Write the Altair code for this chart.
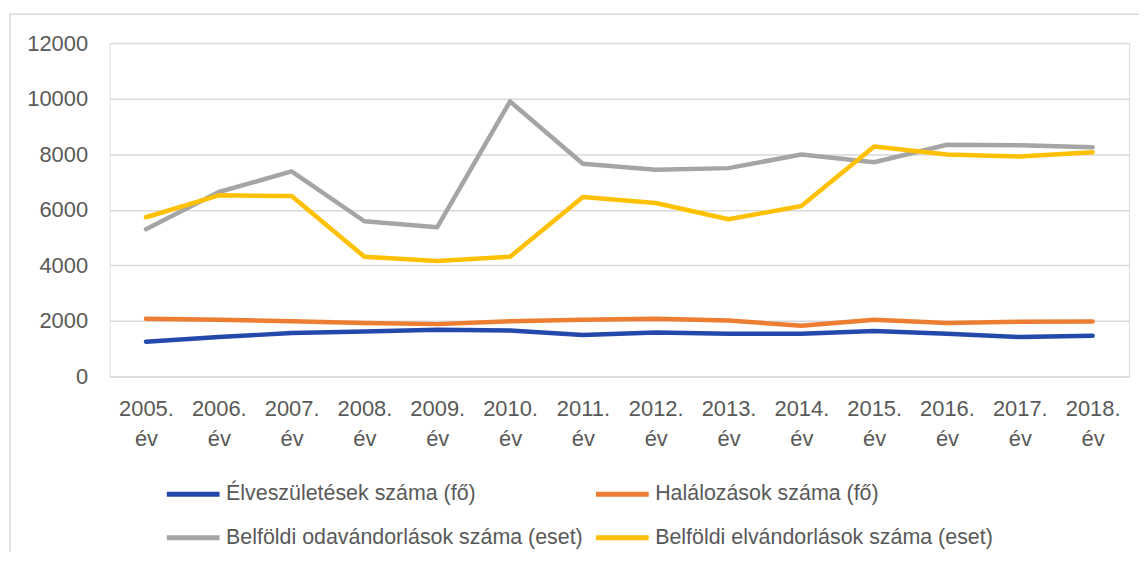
import altair as alt
import pandas as pd

years = ["2005. év", "2006. év", "2007. év", "2008. év", "2009. év", "2010. év", "2011. év",
         "2012. év", "2013. év", "2014. év", "2015. év", "2016. év", "2017. év", "2018. év"]

series_names = [
    "Élveszületések száma (fő)",
    "Halálozások száma (fő)",
    "Belföldi odavándorlások száma (eset)",
    "Belföldi elvándorlások száma (eset)",
]

births = [1254, 1422, 1565, 1623, 1684, 1660, 1493, 1588, 1540, 1540, 1637, 1540, 1422, 1469]
deaths = [2078, 2042, 1990, 1924, 1887, 1990, 2042, 2080, 2017, 1827, 2042, 1924, 1970, 1982]
in_migr = [5302, 6640, 7380, 5588, 5373, 9898, 7655, 7440, 7500, 7989, 7713, 8340, 8323, 8251]
out_migr = [5732, 6520, 6495, 4310, 4155, 4310, 6460, 6245, 5660, 6137, 8275, 7989, 7917, 8072]

colors = ["#2349AB", "#ED7D31", "#A5A5A5", "#FFC000"]

# legend is filled column by column: order entries so rows read as in the original
legend_order = [series_names[0], series_names[2], series_names[1], series_names[3]]
legend_colors = [colors[0], colors[2], colors[1], colors[3]]

rows = []
for name, vals in zip(series_names, [births, deaths, in_migr, out_migr]):
    for y, v in zip(years, vals):
        rows.append({"Év": y, "Sorozat": name, "Érték": v})
df = pd.DataFrame(rows)

FONT = "Liberation Sans"
TXT = "#595959"
FS = 22

lines = alt.Chart(df).mark_line(strokeWidth=4.5, strokeCap="round", strokeJoin="round").encode(
    x=alt.X("Év:N", sort=years, title=None,
            scale=alt.Scale(type="point", padding=0.5),
            axis=alt.Axis(labelExpr="split(datum.label, ' ')", labelAngle=0,
                          labelLineHeight=30, labelPadding=22, labelBaseline="top",
                          domain=False, ticks=False, grid=False,
                          labelFont=FONT, labelFontSize=FS, labelColor=TXT)),
    y=alt.Y("Érték:Q", title=None,
            scale=alt.Scale(domain=[0, 12000], nice=False),
            axis=alt.Axis(values=[0, 2000, 4000, 6000, 8000, 10000, 12000], format="d",
                          domain=False, ticks=False, labelPadding=22,
                          gridColor="#D9D9D9", gridWidth=1.5,
                          labelFont=FONT, labelFontSize=FS, labelColor=TXT)),
    color=alt.Color("Sorozat:N",
                    scale=alt.Scale(domain=legend_order, range=legend_colors),
                    legend=alt.Legend(title=None, orient="none", legendX=55, legendY=424,
                                      columns=2, symbolType="stroke", symbolSize=2809,
                                      symbolStrokeWidth=5, labelOffset=4,
                                      columnPadding=2, rowPadding=4,
                                      labelFont=FONT, labelFontSize=21.5, labelColor=TXT,
                                      labelLimit=600)),
    detail="Sorozat:N",
)

border_df = pd.DataFrame({"k": [0]})
border = alt.Chart(border_df).mark_rect(fill=None, stroke="#D9D9D9", strokeWidth=1.5).encode(
    x=alt.value(-100), x2=alt.value(1100), y=alt.value(-29), y2=alt.value(700)
)

chart = alt.layer(border, lines).properties(
    width=1024, height=335,
    autosize=alt.AutoSizeParams(type="none"),
    padding={"left": 102, "top": 34, "right": 10, "bottom": 175},
).configure_view(stroke=None).configure(background="white")

chart.save("out.html", embed_options={"renderer": "svg", "actions": False})
